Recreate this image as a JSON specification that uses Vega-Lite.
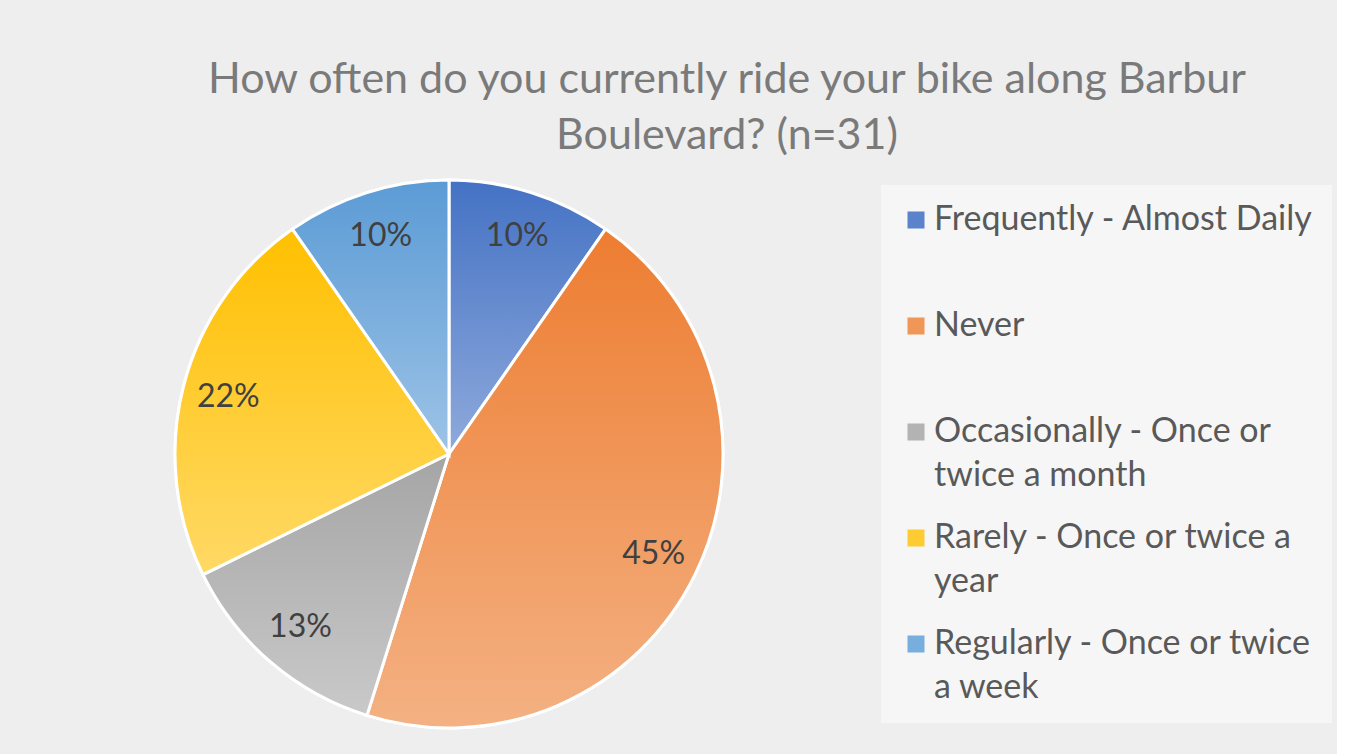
{
  "$schema": "https://vega.github.io/schema/vega-lite/v6.json",
  "width": 898,
  "height": 550,
  "padding": {"left": 0, "top": 59, "right": 5, "bottom": 27},
  "background": "#eeeeee",
  "title": {
    "text": ["How often do you currently ride your bike along Barbur", "Boulevard? (n=31)"],
    "font": "Lato",
    "fontSize": 43,
    "fontWeight": "normal",
    "color": "#7a7a7a",
    "lineHeight": 56,
    "anchor": "middle",
    "dx": 278,
    "offset": 16
  },
  "data": {
    "values": [
      {"category": "Frequently - Almost Daily", "count": 3, "share": 0.10},
      {"category": "Never", "count": 14, "share": 0.45},
      {"category": "Occasionally - Once or twice a month", "count": 4, "share": 0.13},
      {"category": "Rarely - Once or twice a year", "count": 7, "share": 0.22},
      {"category": "Regularly - Once or twice a week", "count": 3, "share": 0.10}
    ]
  },
  "transform": [
    {"stack": "count", "groupby": [], "sort": [{"field": "category", "order": "ascending"}], "as": ["t0", "t1"]}
  ],
  "layer": [
    {
      "mark": {"type": "arc", "outerRadius": 274, "stroke": "white", "strokeWidth": 3},
      "encoding": {
        "theta": {"field": "t0", "type": "quantitative", "scale": {"domain": [0, 31]}},
        "theta2": {"field": "t1"},
        "color": {
          "field": "category",
          "type": "nominal",
          "scale": {"range": ["#5B83CC", "#F09657", "#B3B3B3", "#FFCB33", "#78AEDD"]},
          "legend": {
            "orient": "none",
            "legendX": 881,
            "legendY": 6,
            "title": null,
            "symbolType": "square",
            "symbolSize": 289,
            "symbolStrokeWidth": 0,
            "labelFont": "Lato",
            "labelFontSize": 34,
            "labelColor": "#595959",
            "labelLimit": 440,
            "labelOffset": 1,
            "rowPadding": 28,
            "padding": 18,
            "fillColor": "#f6f6f6",
            "labelExpr": "datum.label == 'Occasionally - Once or twice a month' ? ['Occasionally - Once or', 'twice a month'] : datum.label == 'Rarely - Once or twice a year' ? ['Rarely - Once or twice a', 'year'] : datum.label == 'Regularly - Once or twice a week' ? ['Regularly - Once or twice', 'a week'] : [datum.label, '']"
          }
        }
      }
    },
    {
      "transform": [{"filter": "datum.category == 'Frequently - Almost Daily'"}],
      "mark": {"type": "arc", "outerRadius": 274, "stroke": "white", "strokeWidth": 3,
        "color": {"gradient": "linear", "x1": 0, "y1": 0, "x2": 0, "y2": 1, "stops": [{"offset": 0, "color": "#4472C4"}, {"offset": 1, "color": "#8FAADC"}]}},
      "encoding": {"theta": {"field": "t0", "type": "quantitative"}, "theta2": {"field": "t1"}}
    },
    {
      "transform": [{"filter": "datum.category == 'Never'"}],
      "mark": {"type": "arc", "outerRadius": 274, "stroke": "white", "strokeWidth": 3,
        "color": {"gradient": "linear", "x1": 0, "y1": 0, "x2": 0, "y2": 1, "stops": [{"offset": 0, "color": "#ED7D31"}, {"offset": 1, "color": "#F4B183"}]}},
      "encoding": {"theta": {"field": "t0", "type": "quantitative"}, "theta2": {"field": "t1"}}
    },
    {
      "transform": [{"filter": "datum.category == 'Occasionally - Once or twice a month'"}],
      "mark": {"type": "arc", "outerRadius": 274, "stroke": "white", "strokeWidth": 3,
        "color": {"gradient": "linear", "x1": 0, "y1": 0, "x2": 0, "y2": 1, "stops": [{"offset": 0, "color": "#A5A5A5"}, {"offset": 1, "color": "#C9C9C9"}]}},
      "encoding": {"theta": {"field": "t0", "type": "quantitative"}, "theta2": {"field": "t1"}}
    },
    {
      "transform": [{"filter": "datum.category == 'Rarely - Once or twice a year'"}],
      "mark": {"type": "arc", "outerRadius": 274, "stroke": "white", "strokeWidth": 3,
        "color": {"gradient": "linear", "x1": 0, "y1": 0, "x2": 0, "y2": 1, "stops": [{"offset": 0, "color": "#FFC000"}, {"offset": 1, "color": "#FFD966"}]}},
      "encoding": {"theta": {"field": "t0", "type": "quantitative"}, "theta2": {"field": "t1"}}
    },
    {
      "transform": [{"filter": "datum.category == 'Regularly - Once or twice a week'"}],
      "mark": {"type": "arc", "outerRadius": 274, "stroke": "white", "strokeWidth": 3,
        "color": {"gradient": "linear", "x1": 0, "y1": 0, "x2": 0, "y2": 1, "stops": [{"offset": 0, "color": "#5B9BD5"}, {"offset": 1, "color": "#9DC3E6"}]}},
      "encoding": {"theta": {"field": "t0", "type": "quantitative"}, "theta2": {"field": "t1"}}
    },
    {
      "mark": {"type": "text", "radius": 228, "font": "Lato", "fontSize": 32, "color": "#404040"},
      "encoding": {
        "theta": {"field": "count", "type": "quantitative", "stack": true},
        "order": {"field": "t0", "type": "quantitative"},
        "detail": {"field": "category", "type": "nominal"},
        "text": {"field": "share", "type": "quantitative", "format": ".0%"}
      }
    }
  ],
  "config": {
    "view": {"stroke": null},
    "style": {"guide-label": {"lineHeight": 44}}
  }
}
